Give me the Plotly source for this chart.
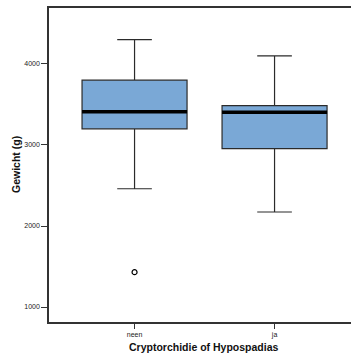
import plotly.graph_objects as go

categories = ["neen", "ja"]
q1 = [3200, 2955]
median = [3410, 3403]
q3 = [3800, 3486]
lower_whisker = [2460, 2173]
upper_whisker = [4300, 4100]
outlier_cat = ["neen"]
outlier_val = [1430]

positions = list(range(len(categories)))
box_w = 0.75
fill = "rgb(122,168,214)"

fig = go.Figure()
fig.add_trace(go.Box(
    x=positions, q1=q1, median=median, q3=q3,
    lowerfence=lower_whisker, upperfence=upper_whisker,
    width=box_w, whiskerwidth=0.33,
    fillcolor=fill, line=dict(color="#2b2b2b", width=1.2),
    boxpoints=False, showlegend=False, hoverinfo="skip",
))
# thick black median lines
for i, m in zip(positions, median):
    fig.add_trace(go.Scatter(
        x=[i - box_w / 2, i + box_w / 2], y=[m, m], mode="lines",
        line=dict(color="black", width=3.5), showlegend=False, hoverinfo="skip",
    ))
fig.add_trace(go.Scatter(
    x=[categories.index(c) for c in outlier_cat], y=outlier_val, mode="markers",
    marker=dict(symbol="circle-open", size=5, color="black", line=dict(width=1.2)),
    showlegend=False, hoverinfo="skip",
))

font = "Liberation Sans, Arial, Helvetica, sans-serif"
fig.update_layout(
    width=351, height=354,
    margin=dict(l=49, r=0, t=8, b=32, autoexpand=False),
    paper_bgcolor="white", plot_bgcolor="white",
    font=dict(family=font, color="#222"),
    xaxis=dict(
        range=[-0.611, 1.546], tickvals=positions, ticktext=categories,
        showline=True, linecolor="#333", linewidth=1.5, mirror=True,
        ticks="outside", ticklen=5, tickcolor="#333", tickwidth=1,
        tickfont=dict(size=7, color="#222"), showgrid=False, zeroline=False,
        automargin=False,
    ),
    yaxis=dict(
        range=[815, 4691], tickvals=[1000, 2000, 3000, 4000],
        showline=True, linecolor="#333", linewidth=1.5, mirror=False,
        ticks="outside", ticklen=6, tickcolor="#333", tickwidth=1,
        tickfont=dict(size=7, color="#222"), showgrid=False, zeroline=False,
        automargin=False,
    ),
    annotations=[
        dict(text="<b>Cryptorchidie of Hypospadias</b>", xref="paper", yref="paper",
             x=0.513, y=0, yshift=-25, showarrow=False, yanchor="middle",
             font=dict(size=10.5, color="#111")),
        dict(text="<b>Gewicht (g)</b>", xref="paper", yref="paper",
             x=0, y=0.5, xshift=-33, textangle=-90, showarrow=False, xanchor="center",
             font=dict(size=10.5, color="#111")),
    ],
)
fig.write_html(
    "out.html",
    config={"displayModeBar": False},
    post_script="document.body.style.margin='0';document.body.style.overflow='hidden';",
)
